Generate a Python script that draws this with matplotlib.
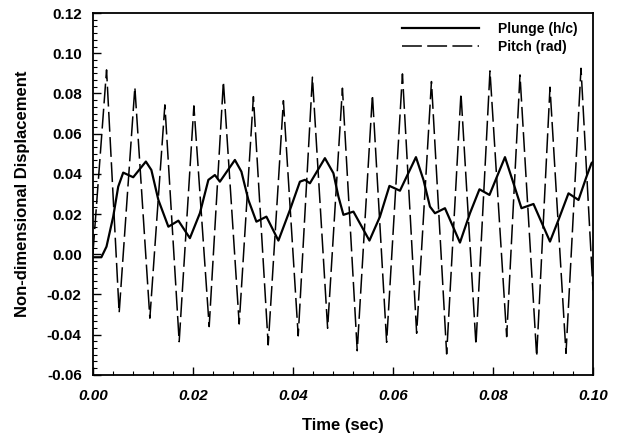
import matplotlib
matplotlib.use("Agg")
import matplotlib.pyplot as plt
from matplotlib.ticker import MultipleLocator, FormatStrFormatter

plt.rcParams['font.family'] = ['Liberation Sans', 'DejaVu Sans']
plt.rcParams['font.weight'] = 'bold'

# plunge (h/c), solid line
plunge_t = [0.0, 0.0017, 0.00273, 0.00407, 0.00507, 0.00607, 0.00807, 0.0106,
            0.0117, 0.0131, 0.0151, 0.0171, 0.0194, 0.0214, 0.0231, 0.0244,
            0.0254, 0.0284, 0.0297, 0.0311, 0.0327, 0.0347, 0.0371, 0.0394,
            0.0414, 0.0424, 0.0434, 0.0464, 0.0481, 0.0491, 0.0501, 0.0521,
            0.0553, 0.0574, 0.0593, 0.0614, 0.0646, 0.0661, 0.0674, 0.0684,
            0.0704, 0.0734, 0.0754, 0.0773, 0.0793, 0.0824, 0.0841, 0.0857,
            0.0881, 0.0914, 0.0931, 0.0951, 0.0971, 0.0987, 0.0997, 0.1]
plunge_v = [-0.0015, -0.0015, 0.0038, 0.0187, 0.0336, 0.0406, 0.0383, 0.0461,
            0.0419, 0.027, 0.0137, 0.0167, 0.0080, 0.0204, 0.037, 0.0394,
            0.0361, 0.0469, 0.0411, 0.027, 0.0162, 0.0187, 0.0068, 0.022,
            0.0361, 0.037, 0.0353, 0.0478, 0.0403, 0.0287, 0.0196, 0.0212,
            0.0068, 0.0187, 0.034, 0.0316, 0.0483, 0.037, 0.0237, 0.0204,
            0.0229, 0.0058, 0.0204, 0.0323, 0.0295, 0.0483, 0.0353, 0.0229,
            0.025, 0.0063, 0.0171, 0.0303, 0.027, 0.0386, 0.0453, 0.046]

# pitch (rad), dashed line - peaks and troughs
pitch_t = [0.0, 0.00274, 0.00526, 0.0084, 0.0114, 0.0144, 0.01726, 0.0202,
           0.02326, 0.0261, 0.02926, 0.0321, 0.03506, 0.0381, 0.04106, 0.0439,
           0.04694, 0.0499, 0.05286, 0.0559, 0.05874, 0.0619, 0.06474, 0.0677,
           0.07074, 0.0736, 0.0766, 0.0794, 0.08274, 0.0854, 0.08874, 0.0914,
           0.0946, 0.0976, 0.1]
pitch_v = [0.0, 0.0917, -0.0291, 0.0831, -0.0318, 0.0743, -0.0435, 0.0738,
           -0.036, 0.0859, -0.0347, 0.0784, -0.0451, 0.0764, -0.0406, 0.0881,
           -0.0368, 0.0826, -0.048, 0.0793, -0.0438, 0.0897, -0.0393, 0.0859,
           -0.0496, 0.0801, -0.0451, 0.0912, -0.041, 0.0892, -0.0509, 0.0831,
           -0.0493, 0.0925, -0.018]

fig = plt.figure(figsize=(6.19, 4.41), dpi=100)
ax = fig.add_axes([0.150, 0.150, 0.808, 0.8205])

ax.plot(plunge_t, plunge_v, color='black', lw=1.6, solid_joinstyle='round',
        label='Plunge (h/c)')
ax.plot(pitch_t, pitch_v, color='black', lw=1.1, dashes=(13, 3.5),
        dash_joinstyle='round', label='Pitch (rad)')

ax.set_xlim(0, 0.1)
ax.set_ylim(-0.06, 0.12)
ax.xaxis.set_major_locator(MultipleLocator(0.02))
ax.xaxis.set_minor_locator(MultipleLocator(0.004))
ax.yaxis.set_major_locator(MultipleLocator(0.02))
ax.yaxis.set_minor_locator(MultipleLocator(0.02 / 6))
ax.xaxis.set_major_formatter(FormatStrFormatter('%.2f'))
ax.yaxis.set_major_formatter(FormatStrFormatter('%.2f'))
ax.tick_params(which='both', direction='in', top=False, right=False)
ax.tick_params(which='major', length=6, width=1)
ax.tick_params(which='minor', length=3, width=0.8)
ax.tick_params(axis='y', labelsize=11, pad=8)
ax.tick_params(axis='x', labelsize=11, pad=10)
for lab in ax.get_xticklabels():
    lab.set_fontstyle('italic')
    lab.set_fontweight('bold')
for lab in ax.get_yticklabels():
    lab.set_fontweight('bold')
for sp in ax.spines.values():
    sp.set_linewidth(1.3)

ax.set_xlabel('Time (sec)', fontsize=12, fontweight='bold', labelpad=11)
ax.set_ylabel('Non-dimensional Displacement', fontsize=12, fontweight='bold', labelpad=12)

ax.legend(loc='upper right', bbox_to_anchor=(0.981, 0.99), borderaxespad=0,
          frameon=False, handlelength=5.6, labelspacing=0.3, handletextpad=1.37,
          prop={'weight': 'bold', 'size': 10})

fig.savefig('out.png', dpi=100)
